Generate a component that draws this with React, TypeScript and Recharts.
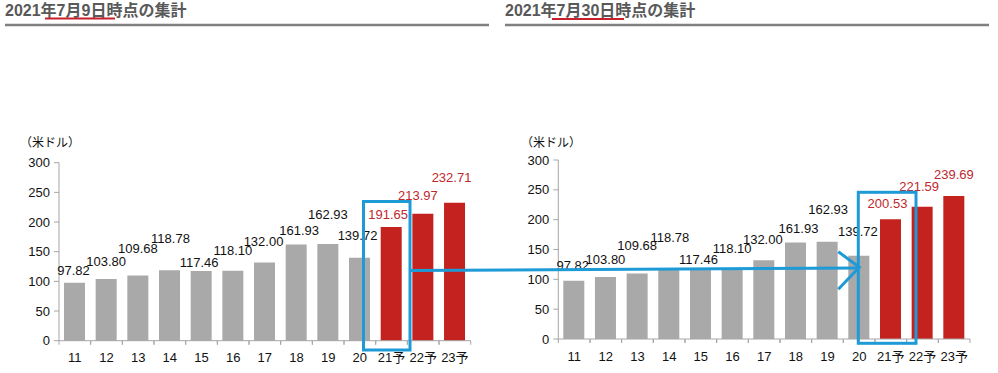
import React from 'react';
import { BarChart, Bar, XAxis, YAxis, Cell, LabelList } from 'recharts';

const categories = ['11', '12', '13', '14', '15', '16', '17', '18', '19', '20', '21予', '22予', '23予'];
const valuesJul9 = [97.82, 103.8, 109.68, 118.78, 117.46, 118.1, 132.0, 161.93, 162.93, 139.72, 191.65, 213.97, 232.71];
const valuesJul30 = [97.82, 103.8, 109.68, 118.78, 117.46, 118.1, 132.0, 161.93, 162.93, 139.72, 200.53, 221.59, 239.69];
const yTicks = [0, 50, 100, 150, 200, 250, 300];
const titleLeft = ['2021年', '7月9日', '時点の集計'];
const titleRight = ['2021年', '7月30日', '時点の集計'];
const unitLabel = '（米ドル）';

// label staggering (layout only, px relative to bar top / bar centre)
const liftA = [12, 18, 27, 32, 9, 20, 21, 14, 30, 22, 12, 18, 25];
const shiftA = [-1, 0, 0, 1, -2, 0, -1, 3, 0, -2, -3, -5, -3];
const liftB = [15, 18, 28, 31, 9, 20, 21, 14, 32, 24, 16, 20, 21];
const shiftB = [-1, 0, 0, 1, -2, 0, -1, 3, 1, -1, -3, -3, 0];

const FONT = "'Liberation Sans', Arial, 'Noto Sans CJK JP', sans-serif";
const GRAY_BAR = '#A9A9A9';
const RED_BAR = '#C4221F';
const RED_TEXT = '#C0282D';
const AXIS = '#A6A6A6';
const BLUE = '#1E9AD6';
const PLOT_W = 411.7;

const isForecast = (c: string) => c.includes('予');

const makeData = (vals: number[]) => categories.map((c, i) => ({ cat: c, value: vals[i] }));

const makeLabel = (lift: number[], shift: number[]) => (props: any) => {
  const { x, y, width, value, index } = props;
  const cx = Number(x) + Number(width) / 2 + (shift[index] || 0);
  const cy = Number(y) - (lift[index] || 0);
  const fc = isForecast(categories[index]);
  return (
    <text x={cx} y={cy} textAnchor="middle" dominantBaseline="central" fontSize={13} fontFamily={FONT} fill={fc ? RED_TEXT : '#111'}>
      {Number(value).toFixed(2)}
    </text>
  );
};

const XTick = (props: any) => {
  const { x, y, payload } = props;
  const half = PLOT_W / categories.length / 2;
  return (
    <g>
      <line x1={x - half} x2={x - half} y1={y} y2={y + 4} stroke={AXIS} />
      <line x1={x + half} x2={x + half} y1={y} y2={y + 4} stroke={AXIS} />
      <text x={x} y={y + 17} textAnchor="middle" dominantBaseline="central" fontSize={13} fontFamily={FONT} fill="#111">
        {payload.value}
      </text>
    </g>
  );
};

const Chart = ({ vals, lift, shift, margin }: any) => (
  <BarChart width={498} height={373} data={makeData(vals)} margin={margin} barSize={21}>
    <XAxis dataKey="cat" height={30} tickSize={0} tickMargin={0} tick={<XTick />} stroke={AXIS} interval={0} />
    <YAxis
      width={40}
      domain={[0, 300]}
      ticks={yTicks}
      tickSize={5}
      tickMargin={4}
      stroke={AXIS}
      tick={{ fontSize: 13, fontFamily: FONT, fill: '#111' }}
    />
    <Bar dataKey="value" isAnimationActive={false}>
      {categories.map((c, i) => (
        <Cell key={i} fill={isForecast(c) ? RED_BAR : GRAY_BAR} />
      ))}
      <LabelList dataKey="value" content={makeLabel(lift, shift)} />
    </Bar>
  </BarChart>
);

const Title = ({ x, parts }: any) => (
  <text x={x} y={16} fontSize={16} fontWeight="bold" fontFamily={FONT} fill="#595959">
    {parts.map((p: string, i: number) => (
      <tspan key={i}>{p}</tspan>
    ))}
  </text>
);

export default function App() {
  return (
    <div style={{ position: 'absolute', left: 0, top: 0, width: 998, height: 373, background: '#fff', overflow: 'hidden' }}>
      <div style={{ position: 'absolute', left: 0, top: 0 }}>
        <Chart vals={valuesJul9} lift={liftA} shift={shiftA} margin={{ top: 162.7, right: 27.3, bottom: 2.3, left: 19 }} />
      </div>
      <div style={{ position: 'absolute', left: 500, top: 0 }}>
        <Chart vals={valuesJul30} lift={liftB} shift={shiftB} margin={{ top: 160, right: 28, bottom: 4, left: 18.3 }} />
      </div>
      <svg width={998} height={373} style={{ position: 'absolute', left: 0, top: 0, pointerEvents: 'none' }}>
        <Title x={5} parts={titleLeft} />
        <Title x={505} parts={titleRight} />
        <line x1={5} x2={489} y1={25} y2={25} stroke="#808080" strokeWidth={2.5} />
        <line x1={505} x2={989} y1={25} y2={25} stroke="#808080" strokeWidth={2.5} />
        <line x1={45} x2={115} y1={18.5} y2={18.5} stroke="#C8202A" strokeWidth={2} />
        <line x1={552} x2={624} y1={19} y2={19} stroke="#C8202A" strokeWidth={2} />
        <text x={20} y={143} dominantBaseline="central" fontSize={12} fontFamily={FONT} fill="#111">{unitLabel}</text>
        <text x={521} y={142.7} dominantBaseline="central" fontSize={12} fontFamily={FONT} fill="#111">{unitLabel}</text>
        <rect x={363.5} y={201.5} width={46.5} height={148.5} fill="none" stroke={BLUE} strokeWidth={3} />
        <rect x={858.3} y={192.3} width={57.7} height={151} fill="none" stroke={BLUE} strokeWidth={3} />
        <line x1={410} x2={859} y1={270.5} y2={268} stroke={BLUE} strokeWidth={3} />
        <polyline points="838.3,251.7 859.3,267.3 838.3,289.3" fill="none" stroke={BLUE} strokeWidth={3} />
      </svg>
    </div>
  );
}
